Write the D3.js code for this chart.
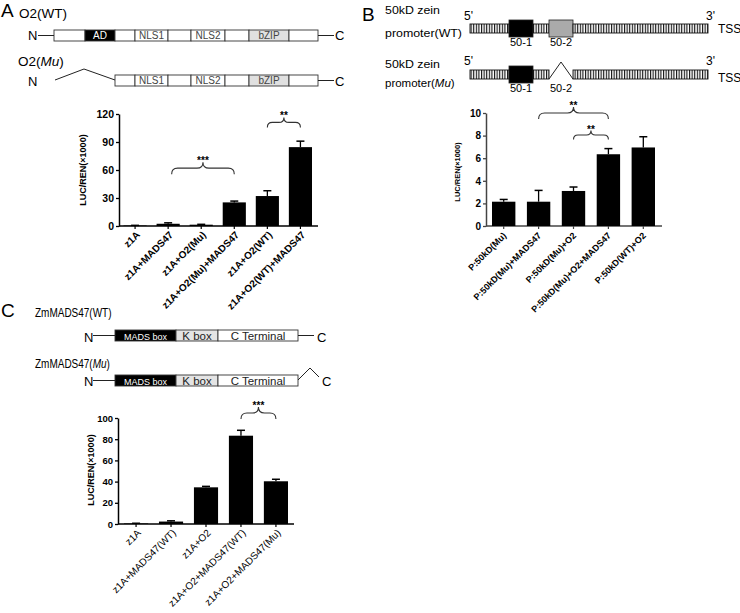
<!DOCTYPE html>
<html>
<head>
<meta charset="utf-8">
<script src="https://cdn.jsdelivr.net/npm/d3@7"></script>
<style>
  body { margin: 0; background: #fff; }
  svg { font-family: "Liberation Sans", Arial, sans-serif; }
</style>
</head>
<body>
<div id="fig"></div>
<script>
// ---- panel A data ----
var catsA = ["z1A", "z1A+MADS47", "z1A+O2(Mu)", "z1A+O2(Mu)+MADS47", "z1A+O2(WT)", "z1A+O2(WT)+MADS47"];
var valsA = [0.5, 2.4, 1.4, 25.3, 32.1, 84.5];
var errA = [0.2, 1.0, 0.4, 1.4, 5.7, 6.4];
var ticksA = [0, 30, 60, 90, 120];

// ---- panel B data ----
var catsB = ["P:50kD(Mu)", "P:50kD(Mu)+MADS47", "P:50kD(Mu)+O2", "P:50kD(Mu)+O2+MADS47", "P:50kD(WT)+O2"];
var valsB = [2.15, 2.15, 3.1, 6.35, 6.95];
var errB = [0.2, 1.0, 0.35, 0.5, 0.95];
var ticksB = [0, 2, 4, 6, 8, 10];

// ---- panel C data ----
var catsC = ["z1A", "z1A+MADS47(WT)", "z1A+O2", "z1A+O2+MADS47(WT)", "z1A+O2+MADS47(Mu)"];
var valsC = [0.5, 2.3, 34.6, 83.3, 40.3];
var errC = [0.2, 0.7, 0.9, 5.1, 1.9];
var ticksC = [0, 20, 40, 60, 80, 100];

// significance braces: from bar, to bar, height (data units), label
var sigA = [{ from: 1, to: 3, at: 62, label: "***" }, { from: 4, to: 5, at: 111, label: "**" }];
var sigB = [{ from: 1, to: 3, at: 10, label: "**" }, { from: 2, to: 3, at: 8.05, label: "**" }];
var sigC = [{ from: 3, to: 4, at: 104.7, label: "***" }];

// ---- protein / promoter schemes (relative lengths) ----
var o2Names = ["", "AD", "", "NLS1", "", "NLS2", "", "bZIP", ""];
var o2Lens = [31, 30, 20, 33, 23, 34, 24, 40, 29];
var madsNames = ["MADS box", "K box", "C Terminal"];
var madsLens = [61, 42, 80];
var promNames = ["", "50-1", "", "50-2", ""];
var promLens = [39, 24, 16, 24, 135];

var svg = d3.select("#fig").append("svg")
    .attr("width", 740)
    .attr("height", 613);

// hatch pattern for the promoter bar
var pat = svg.append("defs").append("pattern")
    .attr("id", "hatch")
    .attr("patternUnits", "userSpaceOnUse")
    .attr("width", 2.6)
    .attr("height", 10);
pat.append("rect").attr("width", 2.6).attr("height", 10).attr("fill", "#fff");
pat.append("rect").attr("width", 1.1).attr("height", 10).attr("fill", "#111");

// ---------- bar chart helper ----------
function barChart(o) {
    var g = svg.append("g");
    var x = d3.scaleBand().domain(o.cats).range(o.xr).paddingInner(o.pad).paddingOuter(0);
    var y = d3.scaleLinear().domain([0, d3.max(o.ticks)]).range(o.yr);
    var bw = x.bandwidth();
    var axisCol = o.axisCol || "#000";

    // y axis
    var ya = g.append("g")
        .attr("transform", "translate(" + o.ax + ",0)")
        .call(d3.axisLeft(y).tickValues(o.ticks).tickSize(3).tickSizeOuter(0).tickPadding(2));
    ya.select(".domain").attr("stroke", axisCol).attr("stroke-width", 1.5);
    ya.selectAll(".tick line").attr("stroke", axisCol).attr("stroke-width", 1.3);
    ya.selectAll(".tick text")
        .attr("font-family", "Liberation Sans, Arial, sans-serif")
        .attr("font-size", o.tickSize)
        .attr("font-weight", "bold")
        .attr("fill", "#000");

    // x axis line and ticks
    g.append("line")
        .attr("x1", o.ax).attr("x2", o.axEnd)
        .attr("y1", y(0)).attr("y2", y(0))
        .attr("stroke", axisCol).attr("stroke-width", 1.5);
    g.selectAll(".xt").data(o.cats).enter().append("line")
        .attr("x1", function (d) { return x(d) + bw / 2; })
        .attr("x2", function (d) { return x(d) + bw / 2; })
        .attr("y1", y(0)).attr("y2", y(0) + 3)
        .attr("stroke", axisCol).attr("stroke-width", 1.2);

    // bars
    g.selectAll(".bar").data(o.vals).enter().append("rect")
        .attr("x", function (d, i) { return x(o.cats[i]); })
        .attr("width", bw)
        .attr("y", function (d) { return y(d); })
        .attr("height", function (d) { return y(0) - y(d); })
        .attr("fill", "#000");

    // error bars
    o.vals.forEach(function (v, i) {
        var cx = x(o.cats[i]) + bw / 2;
        g.append("line")
            .attr("x1", cx).attr("x2", cx)
            .attr("y1", y(v)).attr("y2", y(v + o.err[i]))
            .attr("stroke", "#000").attr("stroke-width", 1.3);
        g.append("line")
            .attr("x1", cx - 4).attr("x2", cx + 4)
            .attr("y1", y(v + o.err[i])).attr("y2", y(v + o.err[i]))
            .attr("stroke", "#000").attr("stroke-width", 1.5);
    });

    // rotated category labels
    g.selectAll(".xl").data(o.cats).enter().append("text")
        .attr("transform", function (d) {
            return "translate(" + (x(d) + bw / 2 + o.lblDx) + "," + (y(0) + o.lblDy) + ") rotate(-45)";
        })
        .attr("text-anchor", "end")
        .attr("dy", "0.35em")
        .attr("font-size", o.lblSize)
        .attr("font-weight", o.lblWeight)
        .attr("letter-spacing", o.lblSpacing || 0)
        .attr("fill", "#000")
        .text(function (d) { return d; });

    // y title
    g.append("text")
        .attr("transform", "translate(" + o.titleX + "," + o.titleY + ") rotate(-90)")
        .attr("text-anchor", "middle")
        .attr("font-size", o.titleSize)
        .attr("font-weight", "bold")
        .text("LUC/REN(\u00d71000)");

    // significance braces
    o.sig.forEach(function (s) {
        var xa = x(o.cats[s.from]) + bw / 2 + (s.dxa || 0);
        var xb = x(o.cats[s.to]) + bw / 2;
        var yy = y(s.at);
        var d = s.d || 6;
        var xm = (xa + xb) / 2;
        var p = "M" + xa + "," + (yy + d) +
            " Q" + xa + "," + yy + " " + (xa + d) + "," + yy +
            " L" + (xm - d) + "," + yy +
            " Q" + xm + "," + yy + " " + xm + "," + (yy - d) +
            " Q" + xm + "," + yy + " " + (xm + d) + "," + yy +
            " L" + (xb - d) + "," + yy +
            " Q" + xb + "," + yy + " " + xb + "," + (yy + d);
        g.append("path").attr("d", p)
            .attr("fill", "none").attr("stroke", "#333").attr("stroke-width", 1.1);
        g.append("text")
            .attr("x", xm).attr("y", yy - d + 2)
            .attr("text-anchor", "middle")
            .attr("font-size", 10).attr("font-weight", "bold")
            .text(s.label);
    });
}

sigA[0].dxa = 3.5;
sigA[0].d = 6; sigA[1].d = 5;
sigB[0].d = 6; sigB[1].d = 4.5;
sigC[0].d = 6;

barChart({
    cats: catsA, vals: valsA, err: errA, ticks: ticksA, sig: sigA,
    xr: [123.5, 312], pad: 0.3, yr: [226, 114], ax: 119, axEnd: 318,
    tickSize: 10.5, lblSize: 10, lblWeight: 600, lblDx: 3, lblDy: 7,
    titleX: 86, titleY: 170, titleSize: 9
});

barChart({
    cats: catsB, vals: valsB, err: errB, ticks: ticksB, sig: sigB,
    xr: [492, 655], pad: 0.33, yr: [226, 113], ax: 486, axEnd: 662, axisCol: "#444",
    tickSize: 10, lblSize: 9, lblWeight: 600, lblDx: 1, lblDy: 8,
    titleX: 460, titleY: 172, titleSize: 7.5
});

barChart({
    cats: catsC, vals: valsC, err: errC, ticks: ticksC, sig: sigC,
    xr: [124, 288], pad: 0.31, yr: [524, 418], ax: 118, axEnd: 294,
    tickSize: 9.5, lblSize: 10, lblWeight: "normal", lblSpacing: 0, lblDx: 3, lblDy: 7,
    titleX: 94, titleY: 470, titleSize: 9
});

// ---------- domain scheme helper ----------
function segments(names, lens, x0, x1, startIdx) {
    var total = d3.sum(lens);
    var sx = d3.scaleLinear().domain([0, total]).range([x0, x1]);
    var out = [], acc = 0;
    lens.forEach(function (l, i) {
        if (i >= startIdx) out.push({ name: names[i], a: sx(acc), b: sx(acc + l), i: i });
        acc += l;
    });
    return out;
}

function label(txt, x, y, size, opts) {
    opts = opts || {};
    var t = svg.append("text")
        .attr("x", x).attr("y", y)
        .attr("font-size", size)
        .attr("text-anchor", opts.anchor || "start")
        .attr("fill", opts.fill || "#000")
        .text(txt);
    if (opts.len) t.attr("textLength", opts.len).attr("lengthAdjust", "spacingAndGlyphs");
    return t;
}

// narrow title: text squeezed horizontally, optional italic part
function narrowTitle(pre, ital, post, x, y, size, sx) {
    var t = svg.append("g")
        .attr("transform", "translate(" + x + "," + y + ") scale(" + sx + ",1)")
        .append("text")
        .attr("font-size", size)
        .text(pre);
    if (ital) {
        t.append("tspan").attr("font-style", "italic").text(ital);
        t.append("tspan").text(post);
    }
    return t;
}

// ----- panel A scheme -----
label("A", 1, 17, 19);
label("O2(WT)", 19, 18, 13.5);
var o2Row = function (yTop, startIdx) {
    var segs = segments(o2Names, o2Lens, 54, 318, startIdx);
    var g = svg.append("g");
    g.selectAll("rect").data(segs).enter().append("rect")
        .attr("x", function (d) { return d.a; })
        .attr("width", function (d) { return d.b - d.a; })
        .attr("y", yTop).attr("height", 11)
        .attr("fill", function (d) { return d.name === "AD" ? "#000" : (d.name === "bZIP" ? "#e0e0e0" : "#fff"); })
        .attr("stroke", "#333").attr("stroke-width", 0.9);
    g.selectAll("text").data(segs.filter(function (d) { return d.name; })).enter().append("text")
        .attr("x", function (d) { return (d.a + d.b) / 2; })
        .attr("y", yTop + 9)
        .attr("text-anchor", "middle")
        .attr("font-size", 10)
        .attr("fill", function (d) { return d.name === "AD" ? "#fff" : "#444"; })
        .text(function (d) { return d.name; });
};
o2Row(30, 0);
label("N", 28, 40, 13);
svg.append("line").attr("x1", 38).attr("x2", 54).attr("y1", 35.5).attr("y2", 35.5).attr("stroke", "#222");
svg.append("line").attr("x1", 318).attr("x2", 334).attr("y1", 35.5).attr("y2", 35.5).attr("stroke", "#222");
label("C", 335, 40, 13);

var muA = label("O2(", 18, 66, 13.5);
muA.append("tspan").attr("font-style", "italic").text("Mu");
muA.append("tspan").text(")");
o2Row(75, 2);
label("N", 28, 86, 13);
svg.append("path").attr("d", "M55,80 L84,69 L115,80").attr("fill", "none").attr("stroke", "#222");
svg.append("line").attr("x1", 318).attr("x2", 334).attr("y1", 80.5).attr("y2", 80.5).attr("stroke", "#222");
label("C", 335, 86, 13);

// ----- panel B scheme -----
label("B", 362, 21, 19);
function promRow(yTop, del) {
    var segs = segments(promNames, promLens, 470, 708, 0);
    var g = svg.append("g");
    segs.forEach(function (d) {
        if (del && d.name === "50-2") return;
        if (d.name) {
            g.append("rect").attr("x", d.a).attr("y", yTop - 4).attr("width", d.b - d.a).attr("height", 17)
                .attr("fill", d.name === "50-1" ? "#000" : "#aaa")
                .attr("stroke", "#222").attr("stroke-width", 0.8);
            g.append("text").attr("x", (d.a + d.b) / 2).attr("y", yTop + 22)
                .attr("text-anchor", "middle").attr("font-size", 11).text(d.name);
        } else {
            g.append("rect").attr("x", d.a).attr("y", yTop).attr("width", d.b - d.a).attr("height", 9)
                .attr("fill", "url(#hatch)").attr("stroke", "#111").attr("stroke-width", 0.9);
        }
    });
    if (del) {
        var s = segs.filter(function (d) { return d.name === "50-2"; })[0];
        g.append("path")
            .attr("d", "M" + s.a + "," + (yTop + 9) + " L" + ((s.a + s.b) / 2) + "," + (yTop - 8) + " L" + s.b + "," + (yTop + 9))
            .attr("fill", "none").attr("stroke", "#222");
        g.append("text").attr("x", (s.a + s.b) / 2).attr("y", yTop + 22)
            .attr("text-anchor", "middle").attr("font-size", 11).text(s.name);
    }
}
label("50kD zein", 385, 14, 11.5, { len: 55 });
label("promoter(WT)", 385, 37, 11.5, { len: 77 });
label("5'", 464, 20, 12);
label("3'", 706, 20, 12);
label("TSS", 718, 33, 12);
promRow(24, false);

label("50kD zein", 385, 68, 11.5, { len: 55 });
var pm = label("promoter(", 385, 87, 11.5);
pm.append("tspan").attr("font-style", "italic").text("Mu");
pm.append("tspan").text(")");
label("5'", 464, 65, 12);
label("3'", 706, 65, 12);
label("TSS", 718, 82, 12);
promRow(70, true);

// ----- panel C scheme -----
label("C", 1, 317, 19);
narrowTitle("ZmMADS47(WT)", null, null, 35, 317, 12.5, 0.8);
function madsRow(yTop) {
    var segs = segments(madsNames, madsLens, 115, 298, 0);
    var g = svg.append("g");
    g.selectAll("rect").data(segs).enter().append("rect")
        .attr("x", function (d) { return d.a; })
        .attr("width", function (d) { return d.b - d.a; })
        .attr("y", yTop).attr("height", 11)
        .attr("fill", function (d, i) { return i === 0 ? "#000" : (i === 1 ? "#e4e4e4" : "#fff"); })
        .attr("stroke", "#333").attr("stroke-width", 0.9);
    g.selectAll("text").data(segs).enter().append("text")
        .attr("x", function (d) { return (d.a + d.b) / 2; })
        .attr("y", yTop + 9.5)
        .attr("text-anchor", "middle")
        .attr("font-size", function (d, i) { return i === 0 ? 9 : 11.5; })
        .attr("fill", function (d, i) { return i === 0 ? "#fff" : "#222"; })
        .text(function (d) { return d.name; });
}
madsRow(330);
label("N", 84, 342, 13);
svg.append("line").attr("x1", 93).attr("x2", 115).attr("y1", 335.5).attr("y2", 335.5).attr("stroke", "#222");
svg.append("line").attr("x1", 298).attr("x2", 314).attr("y1", 335.5).attr("y2", 335.5).attr("stroke", "#222");
label("C", 317, 342, 13);

narrowTitle("ZmMADS47(", "Mu", ")", 35, 368, 12.5, 0.8);
madsRow(375);
label("N", 84, 386, 13);
svg.append("line").attr("x1", 93).attr("x2", 115).attr("y1", 380.5).attr("y2", 380.5).attr("stroke", "#222");
svg.append("path").attr("d", "M298,380 L310,368 L319,377").attr("fill", "none").attr("stroke", "#222");
label("C", 322, 386, 13);
</script>
</body>
</html>
